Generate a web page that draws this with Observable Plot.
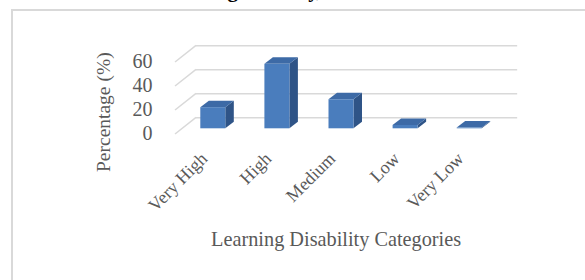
<!DOCTYPE html>
<html>
<head>
<meta charset="utf-8">
<script src="https://cdn.jsdelivr.net/npm/d3@7"></script>
<script src="https://cdn.jsdelivr.net/npm/@observablehq/plot@0.6"></script>
<style>
  html, body { margin: 0; padding: 0; background: #fff; overflow: hidden; }
  #wrap { position: relative; width: 585px; height: 280px; overflow: hidden; }
  #border { position: absolute; left: 11px; top: 9px; width: 640px; height: 320px;
            border-left: 2px solid #d9d9d9; border-top: 2px solid #d9d9d9; }
  #chart { position: absolute; left: 0; top: 0; }
  .clipped-title text { letter-spacing: -1px; }
</style>
</head>
<body>
<div id="wrap"><div id="border"></div><div id="chart"></div></div>
<script>
// ---- data ----
const categories = ["Very High", "High", "Medium", "Low", "Very Low"];
const percentages = [17.6, 53.7, 24.2, 2.8, 0.6];
const yTicks = [0, 20, 40, 60];
const yTickLabels = ["0", "20", "40", "60"];
const xTitle = "Learning Disability Categories";
const yTitle = "Percentage (%)";
const chartTitle = "Learning Disability,";

// ---- style / geometry ----
const FONT = "'Liberation Serif', 'DejaVu Serif', serif";
const TEXT = "#595959";
const GRID = "#d9d9d9";
const FRONT_FILL = "#4a7dbd";
const TOP_FILL = "#3d6aa6";
const SIDE_FILL = "#2f5487";
const DEPTH = {dx: 8.5, dy: -6.5};     // bar depth in px
const BACK = {dx: 14, dy: -11};        // back wall offset from bar plane
const FRONT = {dx: -7, dy: 5.7};       // floor front edge offset from bar plane
const BAR_HALF = 0.195;                // half bar width in category units
const WALL = [-0.48, 4.53];            // wall extent in category units

const data = categories.map((c, i) => ({cat: c, i, value: percentages[i]}));

function bar3dRender(index, scales, values, dimensions, context, next) {
  const g = d3.create("svg:g");
  for (const i of index) {
    const xa = values.x1[i], xb = values.x2[i];
    const yb = values.y1[i], yt = values.y2[i];
    g.append("path")
      .attr("d", `M${xb},${yb}L${xb + DEPTH.dx},${yb + DEPTH.dy}L${xb + DEPTH.dx},${yt + DEPTH.dy}L${xb},${yt}Z`)
      .attr("fill", SIDE_FILL);
    g.append("path")
      .attr("d", `M${xa},${yt}L${xa + DEPTH.dx},${yt + DEPTH.dy}L${xb + DEPTH.dx},${yt + DEPTH.dy}L${xb},${yt}Z`)
      .attr("fill", TOP_FILL);
  }
  g.append(() => next(index, scales, values, dimensions, context));
  return g.node();
}

function sideWallRender(index, scales, values) {
  const g = d3.create("svg:g");
  for (const i of index) {
    g.append("line")
      .attr("x1", values.x1[i] + FRONT.dx).attr("y1", values.y1[i] + FRONT.dy)
      .attr("x2", values.x2[i] + BACK.dx).attr("y2", values.y2[i] + BACK.dy)
      .attr("stroke", GRID).attr("stroke-width", 1.5);
  }
  return g.node();
}

function titleRender(index, scales, values, dimensions, context, next) {
  const node = next(index, scales, values, dimensions, context);
  node.setAttribute("class", (node.getAttribute("class") || "") + " clipped-title");
  return node;
}

const chart = Plot.plot({
  width: 585,
  height: 280,
  marginTop: 0, marginRight: 0, marginBottom: 0, marginLeft: 0,
  style: {background: "transparent", fontFamily: FONT, color: TEXT, overflow: "visible"},
  x: {type: "linear", domain: [0, 4], range: [212.8, 469.2], axis: null},
  y: {type: "linear", domain: [0, 60], range: [128.3, 56.3], axis: null},
  marks: [
    // back wall gridlines
    Plot.ruleY(yTicks, {y: d => d, x1: WALL[0], x2: WALL[1], dx: BACK.dx, dy: BACK.dy,
      stroke: GRID, strokeWidth: 1.5}),
    // side wall gridlines
    Plot.link(yTicks, {x1: () => WALL[0], x2: () => WALL[0], y1: d => d, y2: d => d,
      render: sideWallRender}),
    // bars
    Plot.rect(data, {x1: d => d.i - BAR_HALF, x2: d => d.i + BAR_HALF, y1: 0, y2: d => d.value,
      fill: FRONT_FILL, render: bar3dRender}),
    // y tick labels
    Plot.text(yTicks, {x: () => WALL[0], y: d => d, text: (d, i) => yTickLabels[i],
      textAnchor: "end", lineAnchor: "middle", dx: FRONT.dx - 23, dy: FRONT.dy - 0.8,
      fontSize: 20, fill: TEXT}),
    // category labels
    Plot.text(data, {x: "i", y: () => 0, text: "cat", rotate: -45, textAnchor: "end",
      lineAnchor: "bottom", dx: -5, dy: 31, fontSize: 18, fill: TEXT}),
    // y title
    Plot.text([yTitle], {x: () => WALL[0], y: () => 30, text: d => d, rotate: -90,
      textAnchor: "middle", lineAnchor: "middle", dx: -79, dy: 19.4, fontSize: 19.5, fill: TEXT}),
    // x title
    Plot.text([xTitle], {x: () => (WALL[0] + WALL[1]) / 2, y: () => 0, text: d => d,
      textAnchor: "middle", lineAnchor: "bottom", dx: FRONT.dx, dy: 117, fontSize: 20.3, fill: TEXT}),
    // chart title, cut off by the top edge as in the source image
    Plot.text([chartTitle], {frameAnchor: "top-left", text: d => d, textAnchor: "start",
      lineAnchor: "bottom", dx: 161.7, dy: -4, fontSize: 21, fontWeight: "bold", fill: "#000",
      render: titleRender})
  ]
});

document.getElementById("chart").appendChild(chart);
</script>
</body>
</html>
